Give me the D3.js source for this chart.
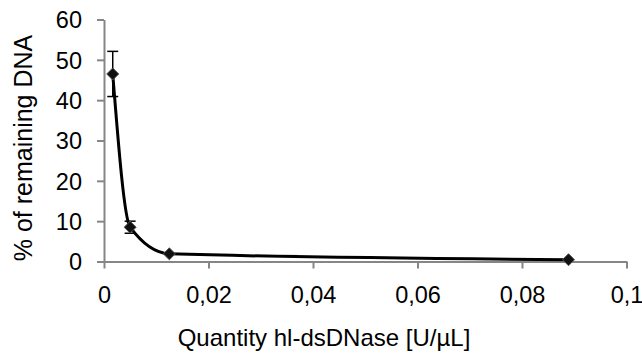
<!DOCTYPE html>
<html><head><meta charset="utf-8">
<script src="https://cdn.jsdelivr.net/npm/d3@7"></script>
<style>body{margin:0;background:#fff}svg{display:block}text{font-family:"Liberation Sans",Arial,sans-serif;fill:#000}</style>
</head><body>
<svg id="c" width="642" height="354"></svg>
<script>
const quantity = [0.00167, 0.005, 0.0125, 0.0889];
const remaining = [46.5, 8.5, 1.9, 0.45];
const errors = [5.6, 1.5, 0, 0];
const xTicks = [0, 0.02, 0.04, 0.06, 0.08, 0.1];
const xTickLabels = ["0", "0,02", "0,04", "0,06", "0,08", "0,1"];
const yTicks = [0, 10, 20, 30, 40, 50, 60];
const xTitle = "Quantity hl-dsDNase [U/µL]";
const yTitle = "% of remaining DNA";

const svg = d3.select("#c");
const x = d3.scaleLinear().domain([0, 0.1]).range([104, 626.5]);
const y = d3.scaleLinear().domain([0, 60]).range([261.5, 19.5]);
const axisColor = "#868686";
const font = '"Liberation Sans",Arial,sans-serif';

const xAxis = svg.append("g").attr("transform", `translate(0,${y(0)})`)
  .call(d3.axisBottom(x).tickValues(xTicks).tickFormat((d,i)=>xTickLabels[i]).tickSize(7).tickSizeOuter(0).tickPadding(30));
const yAxis = svg.append("g").attr("transform", `translate(${x(0)},0)`)
  .call(d3.axisLeft(y).tickValues(yTicks).tickSize(7).tickSizeOuter(0).tickPadding(15));
[xAxis, yAxis].forEach(g => {
  g.select(".domain").attr("stroke", axisColor).attr("stroke-width", 2);
  g.selectAll(".tick line").attr("stroke", axisColor).attr("stroke-width", 2);
  g.selectAll(".tick text").attr("font-size", 23.5).attr("font-family", font).attr("fill", "#000");
});
xAxis.selectAll(".tick text").attr("dy", "0.2em");
yAxis.selectAll(".tick text").attr("dy", "0.35em");

svg.append("text").attr("x", 324).attr("y", 346).attr("text-anchor", "middle").attr("font-size", 24).text(xTitle);
svg.append("text").attr("transform", `translate(32,148) rotate(-90)`).attr("text-anchor", "middle").attr("font-size", 25).text(yTitle);

const pts = quantity.map((q,i)=>({q, v: remaining[i], e: errors[i]}));

const eb = svg.append("g").attr("stroke", "#000").attr("stroke-width", 1.5);
pts.filter(d=>d.e>0).forEach(d=>{
  eb.append("line").attr("x1", x(d.q)).attr("x2", x(d.q)).attr("y1", y(d.v - d.e)).attr("y2", y(d.v + d.e));
  [d.v - d.e, d.v + d.e].forEach(v => eb.append("line").attr("x1", x(d.q)-5.5).attr("x2", x(d.q)+5.5).attr("y1", y(v)).attr("y2", y(v)));
});

const line = d3.line().x(d=>x(d.q)).y(d=>y(d.v)).curve(d3.curveMonotoneX);
svg.append("path").datum(pts).attr("d", line).attr("fill", "none").attr("stroke", "#000").attr("stroke-width", 3);

svg.append("g").selectAll("path").data(pts).join("path")
  .attr("transform", d=>`translate(${x(d.q)},${y(d.v)})`)
  .attr("d", d3.symbol().type(d3.symbolDiamond2).size(92))
  .attr("fill", "#111").attr("stroke", "#555").attr("stroke-width", 1);
</script>
</body></html>
